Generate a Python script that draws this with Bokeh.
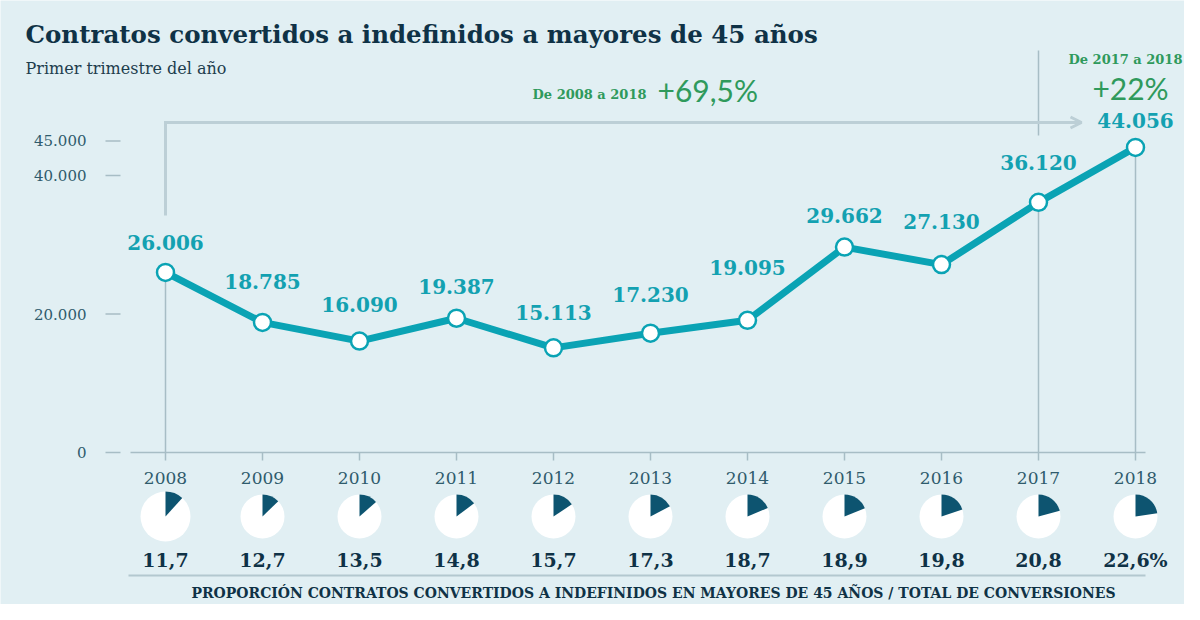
import math
from bokeh.plotting import figure
from bokeh.models import ColumnDataSource, Range1d, Arrow, OpenHead
from bokeh.core.properties import value
from bokeh.embed import file_html
from bokeh.resources import INLINE

# ---------------- data ----------------
years = [2008, 2009, 2010, 2011, 2012, 2013, 2014, 2015, 2016, 2017, 2018]
contratos = [26006, 18785, 16090, 19387, 15113, 17230, 19095, 29662, 27130, 36120, 44056]
contratos_labels = ["26.006", "18.785", "16.090", "19.387", "15.113", "17.230",
                    "19.095", "29.662", "27.130", "36.120", "44.056"]
proporcion = [11.7, 12.7, 13.5, 14.8, 15.7, 17.3, 18.7, 18.9, 19.8, 20.8, 22.6]
proporcion_labels = ["11,7", "12,7", "13,5", "14,8", "15,7", "17,3",
                     "18,7", "18,9", "19,8", "20,8", "22,6%"]
year_labels = ["2008", "2009", "2010", "2011", "2012", "2013",
               "2014", "2015", "2016", "2017", "2018"]
y_ticks = [0, 20000, 40000, 45000]
y_tick_labels = ["0", "20.000", "40.000", "45.000"]

title = "Contratos convertidos a indefinidos a mayores de 45 años"
subtitle = "Primer trimestre del año"
footer = "PROPORCIÓN CONTRATOS CONVERTIDOS A INDEFINIDOS EN MAYORES DE 45 AÑOS / TOTAL DE CONVERSIONES"
note1_small, note1_big = "De 2008 a 2018", "+69,5%"
note2_small, note2_big = "De 2017 a 2018", "+22%"

# ---------------- layout / style ----------------
W, H = 1184, 604
PX_PER_YEAR = 97.0
K = 0.006925            # px per unit of contracts
X0_PX = 165             # canvas px of 2008
Y0_PX = 452             # canvas px of value 0

def rx(refx):
    return 2008 + (refx - X0_PX) / PX_PER_YEAR

def ry(refy):
    return (Y0_PX - refy) / K

label_above_px = [30, 41, 37, 32, 35, 39, 53, 32, 43, 40, 27]
pie_radius_px = [25, 22, 22, 22, 22, 22, 22, 22, 22, 22, 22]

BG = "#e1eff3"
TEAL = "#0aa3b4"
TEAL_TXT = "#13a1b1"
GREEN = "#2f9a5c"
NAVY = "#0f3246"
TICK_TXT = "#2f5b6c"
GUIDE = "#a7bdc5"
ARROW_C = "#bccfd6"
PIE_C = "#0d5470"
SERIF = "DejaVu Serif"

p = figure(width=W, height=H, output_backend="svg", toolbar_location=None,
           x_range=Range1d(2008 - X0_PX / PX_PER_YEAR, 2008 + (W - X0_PX) / PX_PER_YEAR),
           y_range=Range1d(-(H - Y0_PX) / K, Y0_PX / K),
           x_axis_location=None, y_axis_location=None, min_border=0)
p.background_fill_color = BG
p.border_fill_color = BG
p.outline_line_color = None
p.grid.visible = False

# y ticks (short dashes + labels)
p.segment(x0=[rx(105)] * len(y_ticks), x1=[rx(120)] * len(y_ticks), y0=y_ticks, y1=y_ticks,
          line_color=GUIDE, line_width=1.5)
p.text(x=[rx(86)] * len(y_ticks), y=y_ticks, text=y_tick_labels, text_align="right",
       text_baseline="middle", text_font=value(SERIF), text_font_size="15px", text_color=TICK_TXT)

# baseline and x ticks
p.segment(x0=[rx(130)], x1=[rx(1145)], y0=[0], y1=[0], line_color=GUIDE, line_width=1.5)
p.segment(x0=years, x1=years, y0=[0] * len(years), y1=[ry(460)] * len(years),
          line_color=GUIDE, line_width=1.5)
p.text(x=years, y=[ry(477)] * len(years), text=year_labels, text_align="center",
       text_baseline="middle", text_font=value(SERIF), text_font_size="17px", text_color=TICK_TXT)

# vertical guides
gx = [years[0], years[9], years[10]]
gy = [contratos[0], contratos[9], contratos[10]]
p.segment(x0=gx, x1=gx, y0=gy, y1=[0, 0, 0], line_color=GUIDE, line_width=1.5)
p.segment(x0=[years[9]], x1=[years[9]], y0=[ry(50)], y1=[ry(135)], line_color=GUIDE, line_width=1.5)

# arrow 2008 -> 2018
p.line(x=[years[0], years[0], rx(1078)], y=[ry(215), ry(122), ry(122)],
       line_color=ARROW_C, line_width=3, line_join="miter")
p.add_layout(Arrow(x_start=rx(1070), y_start=ry(122), x_end=rx(1081), y_end=ry(122),
                   line_color=ARROW_C, line_width=3,
                   end=OpenHead(size=11, line_color=ARROW_C, line_width=3)))

# main line
src = ColumnDataSource(dict(x=years, y=contratos, lab=contratos_labels,
                            off=[-v for v in label_above_px]))
p.line("x", "y", source=src, line_color=TEAL, line_width=7, line_join="round")
p.scatter("x", "y", source=src, size=17, fill_color="white", line_color=TEAL, line_width=2.5)
p.text("x", "y", text="lab", source=src, y_offset="off", text_align="center",
       text_baseline="middle", text_font=value(SERIF), text_font_style="bold",
       text_font_size="20px", text_color=TEAL_TXT)

# pies
pie_y = [ry(516)] * len(years)
psrc = ColumnDataSource(dict(x=years, y=pie_y, r=pie_radius_px,
                             start=[math.pi / 2 - 2 * math.pi * v / 100 for v in proporcion],
                             end=[math.pi / 2] * len(years)))
p.circle("x", "y", radius="r", radius_units="screen", source=psrc,
         fill_color="white", line_color=None)
p.wedge("x", "y", radius="r", radius_units="screen", start_angle="start", end_angle="end",
        source=psrc, fill_color=PIE_C, line_color=None)
p.text(x=years, y=[ry(559)] * len(years), text=proporcion_labels, text_align="center",
       text_baseline="middle", text_font=value(SERIF), text_font_style="bold",
       text_font_size="19px", text_color=NAVY)
p.segment(x0=[rx(128)], x1=[rx(1145)], y0=[ry(575)], y1=[ry(575)], line_color="#b3c8cf", line_width=2)
p.text(x=[rx(653)], y=[ry(592)], text=[footer], text_align="center", text_baseline="middle",
       text_font=value(SERIF), text_font_style="bold", text_font_size="14px", text_color=NAVY)

# titles
p.text(x=[rx(25)], y=[ry(34)], text=[title], text_align="left", text_baseline="middle",
       text_font=value(SERIF), text_font_style="bold", text_font_size="24.5px", text_color=NAVY)
p.text(x=[rx(25)], y=[ry(68)], text=[subtitle], text_align="left", text_baseline="middle",
       text_font=value(SERIF), text_font_size="16px", text_color="#1d3d4d")

# notes
p.text(x=[rx(646)], y=[ry(94)], text=[note1_small], text_align="right", text_baseline="middle",
       text_font=value(SERIF), text_font_style="bold", text_font_size="13px", text_color=GREEN)
p.text(x=[rx(657)], y=[ry(89)], text=[note1_big], text_align="left", text_baseline="middle",
       text_font=value("Lato"), text_font_size="30px", text_color=GREEN)
p.text(x=[rx(1125)], y=[ry(59)], text=[note2_small], text_align="center", text_baseline="middle",
       text_font=value(SERIF), text_font_style="bold", text_font_size="13px", text_color=GREEN)
p.text(x=[rx(1130)], y=[ry(87)], text=[note2_big], text_align="center", text_baseline="middle",
       text_font=value("Lato"), text_font_size="30px", text_color=GREEN)

open("out.html", "w").write(file_html(p, INLINE))
